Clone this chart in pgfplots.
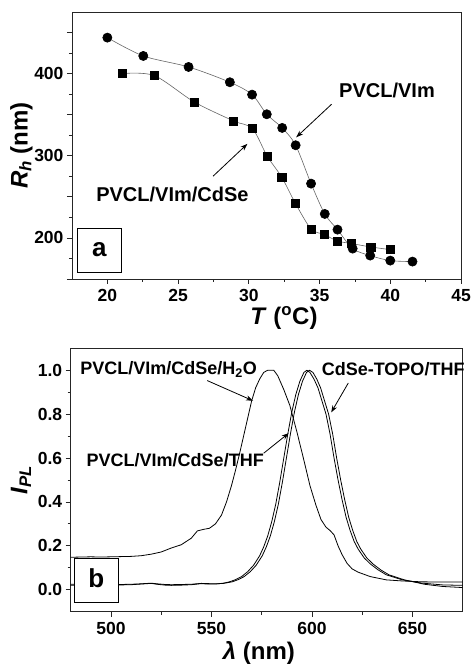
\documentclass[border=0pt]{standalone}
\usepackage{fontspec}
\setmainfont{Liberation Sans}
\usepackage{pgfplots}
\pgfplotsset{compat=1.18}
\usetikzlibrary{arrows.meta}

\pgfplotsset{
  panel/.style={
    scale only axis, anchor=south west, clip=false,
    tick pos=left, tick align=outside,
    major tick length=5pt, minor tick length=3pt,
    axis line style={line width=0.8pt, black!85},
    tick style={line width=0.8pt, black!85},
    /pgf/number format/assume math mode=true,
    tick label style={font=\fontsize{17.5}{20}\selectfont\bfseries},
    xticklabel style={yshift=-2pt},
    label style={font=\fontsize{24}{28}\selectfont\bfseries},
  },
  spec/.style={black, line width=0.8pt},
}
\tikzset{
  lab/.style={font=\fontsize{#1}{#1}\selectfont\bfseries, anchor=base, inner sep=0pt},
  arr/.style={-{Stealth[length=7pt,width=5pt]}, line width=0.8pt},
  letterbox/.style={draw, line width=0.8pt, fill=white, minimum width=44pt, minimum height=44pt,
    font=\fontsize{26}{30}\selectfont\bfseries, text height=14pt, text depth=0pt},
}

\begin{document}
\begin{tikzpicture}
\useasboundingbox (0,0) rectangle (471pt,666pt);

% panel a
\begin{axis}[panel, at={(72pt,387pt)}, width=389pt, height=267pt,
  xmin=17.5, xmax=45, ymin=150, ymax=475,
  xtick={20,25,30,35,40,45}, minor x tick num=1,
  ytick={150,200,250,300,350,400,450}, yticklabels={{},200,{},300,{},400,{}},
  minor y tick num=1,
  xlabel={\textit{T} (\textsuperscript{o}C)},
  ylabel={\textit{R}\textsubscript{\textit{h}} (nm)},
  xlabel style={at={(axis description cs:0.545,-0.146)}, anchor=center},
  ylabel style={at={(axis description cs:-0.13,0.5)}, anchor=center},
]
\addplot[smooth, tension=0.5, line width=0.6pt, black!60, mark=*, mark size=4.6pt,
  mark options={fill=black, draw=black}] coordinates {
  (20.0,443.8) (22.54,421.5) (25.74,408.1) (28.66,389.5) (30.23,374.4)
  (31.27,350.5) (32.36,333.9) (33.31,312.8) (34.40,266.1) (35.37,229.2)
  (36.27,210.1) (37.34,187.0) (38.58,178.5) (40.0,172.4) (41.57,171.2)
};
\addplot[smooth, tension=0.5, line width=0.6pt, black!60, mark=square*, mark size=4.1pt,
  mark options={fill=black, draw=black}] coordinates {
  (21.07,400.0) (23.32,397.6) (26.14,365.5) (28.92,342.4) (30.25,333.1)
  (31.29,299.8) (32.33,273.8) (33.29,242.2) (34.40,210.9) (35.35,204.1)
  (36.25,196.3) (37.27,193.1) (38.62,189.0) (39.98,185.8)
};
\node[lab=20] at (axis cs:39.77,370.4) {PVCL/VIm};
\draw[arr] (axis cs:35.85,362.7) -- (axis cs:33.35,322.5);
\node[lab=20] at (axis cs:24.6,243.8) {PVCL/VIm/CdSe};
\draw[arr] (axis cs:27.47,275.1) -- (axis cs:29.9,314.5);
\node[letterbox] at (axis cs:19.44,185.3) {a};
\end{axis}

% panel b
\begin{axis}[panel, at={(70.7pt,54.3pt)}, width=392pt, height=263.4pt,
  xmin=480, xmax=675, ymin=-0.1, ymax=1.1,
  xtick={500,550,600,650}, minor x tick num=1,
  ytick={0,0.2,0.4,0.6,0.8,1.0}, minor y tick num=1,
  yticklabel style={/pgf/number format/.cd, fixed, fixed zerofill, precision=1},
  xlabel={\textit{λ} (nm)},
  ylabel={\textit{I}\textsubscript{\textit{PL}}},
  xlabel style={at={(axis description cs:0.48,-0.157)}, anchor=center},
  ylabel style={at={(axis description cs:-0.127,0.5)}, anchor=center},
]
% PVCL/VIm/CdSe/H2O
\addplot[spec] coordinates {
  (480,0.148) (485,0.149) (490,0.150) (495,0.149) (500,0.150) (505,0.151)
  (510,0.152) (515,0.155) (520,0.162) (525,0.172) (530,0.190) (535,0.205)
  (540,0.235) (543,0.268) (546,0.275) (549,0.280) (552,0.300) (555,0.340)
  (557.5,0.400) (560,0.475) (562,0.545) (564,0.620) (566,0.700) (568,0.780)
  (570,0.860) (572,0.920) (574,0.960) (576,0.990) (578,1.000) (581,1.000)
  (583,0.975) (586,0.912) (589,0.840) (592.5,0.720) (596,0.590) (599,0.475)
  (602,0.385) (604.5,0.320) (607,0.285) (609,0.270) (611,0.250) (613,0.200)
  (615,0.160) (617.5,0.120) (620,0.095) (623,0.080) (629,0.060) (637,0.045)
  (645,0.040) (655,0.036) (665,0.035) (675,0.035)
};
% PVCL/VIm/CdSe/THF
\addplot[spec] coordinates {
  (480,0.020) (485,0.022) (490,0.021) (495,0.022) (500,0.020) (505,0.022)
  (510,0.023) (515,0.026) (520,0.029) (523,0.025) (527,0.021) (530,0.020)
  (535,0.021) (540,0.023) (545,0.028) (548,0.026) (552,0.026) (556,0.030)
  (559,0.036) (562,0.046) (565,0.060) (568,0.082) (571,0.112) (574,0.155)
  (576,0.195) (578,0.245) (580,0.310) (582,0.390) (584,0.490) (586,0.600)
  (588,0.710) (590,0.810) (592,0.890) (594,0.950) (596,0.990) (597.5,1.000)
  (599,0.990) (601,0.960) (603,0.920) (605,0.860) (607,0.800) (609,0.710)
  (611,0.600) (613,0.500) (615,0.410) (617,0.330) (619,0.270) (621,0.220)
  (623,0.185) (626,0.145) (629,0.118) (633,0.090) (637,0.068) (645,0.045)
  (655,0.030) (665,0.022) (675,0.020)
};
% CdSe-TOPO/THF
\addplot[spec] coordinates {
  (480,0.025) (485,0.024) (490,0.025) (495,0.024) (500,0.025) (505,0.024)
  (510,0.025) (515,0.027) (520,0.030) (523,0.027) (527,0.024) (530,0.023)
  (535,0.024) (540,0.025) (545,0.029) (548,0.028) (552,0.027) (556,0.029)
  (560.3,0.036) (563.3,0.046) (566.3,0.060) (569.3,0.082) (572.3,0.112)
  (575.3,0.155) (577.3,0.195) (579.3,0.245) (581.3,0.310) (583.3,0.390)
  (585.3,0.490) (587.3,0.600) (589.3,0.710) (591.3,0.810) (593.3,0.890)
  (595.3,0.950) (597.3,0.990) (598.8,1.000) (600.5,0.990) (602.4,0.960)
  (604.3,0.920) (606.3,0.860) (608.3,0.800) (610.3,0.710) (612.3,0.600)
  (614.3,0.500) (616.3,0.410) (618.3,0.330) (620.3,0.270) (622.3,0.220)
  (624.3,0.185) (627.3,0.145) (630.3,0.118) (634.3,0.090) (638.3,0.068)
  (646,0.045) (656,0.025) (665,0.015) (675,0.010)
};
\node[lab=18] at (axis cs:528.7,0.98) {PVCL/VIm/CdSe/H\textsubscript{2}O};
\draw[arr] (axis cs:547.9,0.953) -- (axis cs:570.7,0.861);
\node[lab=18] at (axis cs:532.0,0.561) {PVCL/VIm/CdSe/THF};
\draw[arr] (axis cs:576.0,0.622) -- (axis cs:588.4,0.713);
\node[lab=18] at (axis cs:640.4,0.976) {CdSe-TOPO/THF};
\draw[arr] (axis cs:618.1,0.942) -- (axis cs:609.6,0.808);
\node[letterbox] at (axis cs:492.7,0.044) {b};
\end{axis}
\end{tikzpicture}
\end{document}
